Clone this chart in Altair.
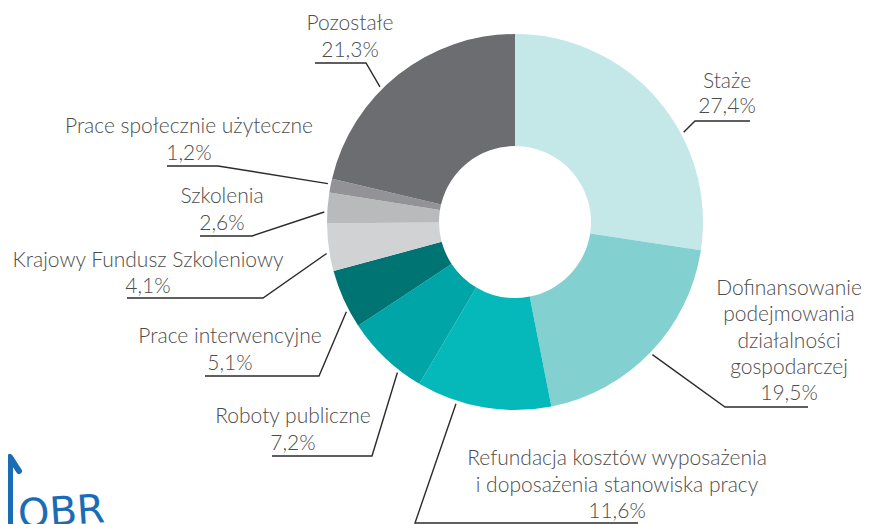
import math
import altair as alt
import pandas as pd

# ---- data ----
categories = ["Staże", "Dofinansowanie podejmowania działalności gospodarczej",
              "Refundacja kosztów wyposażenia i doposażenia stanowiska pracy",
              "Roboty publiczne", "Prace interwencyjne", "Krajowy Fundusz Szkoleniowy",
              "Szkolenia", "Prace społecznie użyteczne", "Pozostałe"]
values = [27.4, 19.5, 11.6, 7.2, 5.1, 4.1, 2.6, 1.2, 21.3]
value_labels = ["27,4%", "19,5%", "11,6%", "7,2%", "5,1%", "4,1%", "2,6%", "1,2%", "21,3%"]
label_lines = [["Staże"],
               ["Dofinansowanie", "podejmowania", "działalności", "gospodarczej"],
               ["Refundacja kosztów wyposażenia", "i doposażenia stanowiska pracy"],
               ["Roboty publiczne"], ["Prace interwencyjne"], ["Krajowy Fundusz Szkoleniowy"],
               ["Szkolenia"], ["Prace społecznie użyteczne"], ["Pozostałe"]]
colors = ["#c4e7e7", "#83d0d1", "#05b9ba", "#00a6a7", "#007473",
          "#d1d2d4", "#b9babc", "#939397", "#6c6d71"]

# ---- layout (image pixel coordinates) ----
W, H = 854, 516
CX, CY, R_OUT, R_IN = 515, 222, 188, 76
label_x = [727, 789, 617, 293, 230, 148, 222, 189, 350]
first_baseline = [88, 295, 465, 423, 343, 267, 203, 133, 30]
line_step = [25, 26.3, 26.5, 27, 27, 26, 27, 27, 27]
underline = [(750, 695, 121), (808, 725, 407), (638, 415, 523), (272, 372, 456),
             (205, 319, 376), (127, 263, 298), (200, 252, 236), (167, 218, 166),
             (315, 366, 63)]  # (far end x, corner x, y)
leader_angle = [62, 134, 198, 218, 242, 260.5, 273, 281.6, 315]
R_LEAD = 191

pie_df = pd.DataFrame({"cat": categories, "val": values, "ord": list(range(len(values)))})

text_rows = []
for i, lines in enumerate(label_lines):
    all_lines = lines + [value_labels[i]]
    for j, t in enumerate(all_lines):
        text_rows.append({"x": label_x[i], "y": first_baseline[i] + j * line_step[i], "t": t})
text_df = pd.DataFrame(text_rows)

line_rows = []
for i in range(len(categories)):
    fx, cx_, uy = underline[i]
    a = math.radians(leader_angle[i])
    px = CX + R_LEAD * math.sin(a)
    py = CY - R_LEAD * math.cos(a)
    for k, (x, y) in enumerate([(fx, uy), (cx_, uy), (px, py)]):
        line_rows.append({"g": i, "k": k, "x": x, "y": y})
line_df = pd.DataFrame(line_rows)

xs = alt.Scale(domain=[8, 8 + W], nice=False, zero=False)
ys = alt.Scale(domain=[8 + H, 8], nice=False, zero=False)

pie = alt.Chart(pie_df).mark_arc(outerRadius=R_OUT, innerRadius=R_IN).encode(
    theta=alt.Theta("val:Q", stack=True),
    color=alt.Color("cat:N", scale=alt.Scale(domain=categories, range=colors), legend=None),
    order=alt.Order("ord:Q"),
    x=alt.value(CX - 8),
    y=alt.value(CY - 8),
)

leaders = alt.Chart(line_df).mark_line(color="#2b2b2b", strokeWidth=1.4).encode(
    x=alt.X("x:Q", scale=xs, axis=None),
    y=alt.Y("y:Q", scale=ys, axis=None),
    detail="g:N",
    order="k:Q",
)

texts = alt.Chart(text_df).mark_text(
    font="Lato", fontWeight=300, fontSize=21, color="#4d4d4d",
    align="center", baseline="alphabetic"
).encode(
    x=alt.X("x:Q", scale=xs, axis=None),
    y=alt.Y("y:Q", scale=ys, axis=None),
    text="t:N",
)

# partial logo at bottom-left
logo_df = pd.DataFrame({"g": [0, 0, 0, 1, 1], "k": [0, 1, 2, 0, 1],
                        "x": [2, 10, 19, 10, 10], "y": [471, 457, 471, 460, 530]})
logo_lines = alt.Chart(logo_df).mark_line(color="#1a6db5", strokeWidth=6, strokeCap="round",
                                          strokeJoin="round").encode(
    x=alt.X("x:Q", scale=xs, axis=None),
    y=alt.Y("y:Q", scale=ys, axis=None),
    detail="g:N", order="k:Q",
)
logo_text = alt.Chart(pd.DataFrame({"x": [19], "y": [528], "t": ["OBR"]})).mark_text(
    font="DejaVu Sans", fontSize=40, color="#1a6db5", align="left", baseline="alphabetic",
    angle=356
).encode(
    x=alt.X("x:Q", scale=xs, axis=None),
    y=alt.Y("y:Q", scale=ys, axis=None),
    text="t:N",
)

chart = alt.layer(pie, leaders, texts, logo_lines, logo_text).properties(
    width=W, height=H, padding=0,
    autosize=alt.AutoSizeParams(type="none"),
).configure_view(stroke=None, clip=False)

chart.save("out.html", embed_options={"renderer": "svg", "actions": False})
